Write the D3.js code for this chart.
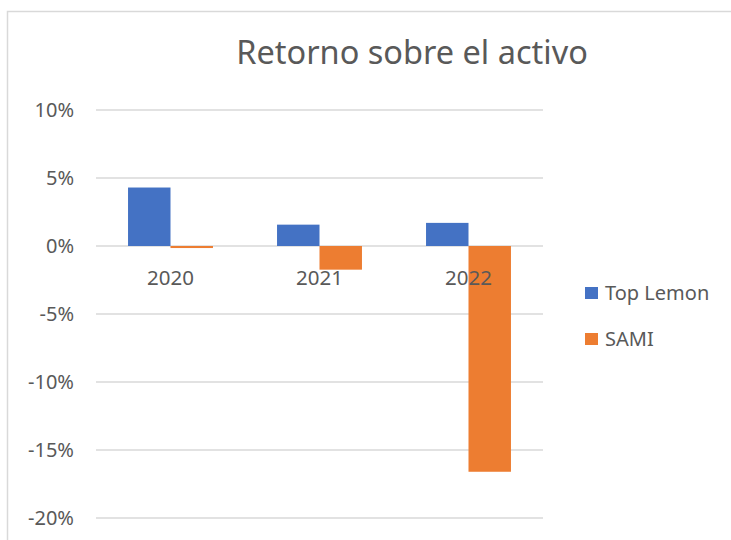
<!DOCTYPE html>
<html>
<head>
<meta charset="utf-8">
<script src="https://cdn.jsdelivr.net/npm/d3@7"></script>
<style>
  body { margin: 0; background: #fff; }
  text { font-family: "Noto Sans", "Open Sans", sans-serif; fill: #595959; }
</style>
</head>
<body>
<svg width="731" height="540"></svg>
<script>
// Retorno sobre el activo - columnas agrupadas
var years = ["2020", "2021", "2022"];
var seriesNames = ["Top Lemon", "SAMI"];
var topLemon = [4.3, 1.57, 1.7];
var sami = [-0.15, -1.74, -16.6];
var seriesColors = ["#4472C4", "#ED7D31"];
var yTicks = [10, 5, 0, -5, -10, -15, -20];

var svg = d3.select("svg");

// chart frame (runs past the image edge like the original screenshot)
svg.append("rect")
    .attr("x", 7.5).attr("y", 11.5)
    .attr("width", 760).attr("height", 560)
    .attr("fill", "none")
    .attr("stroke", "#d9d9d9")
    .attr("stroke-width", 1.5);

var plotL = 96, plotR = 543;

var y = d3.scaleLinear().domain([-20, 10]).range([518, 110]);
var x = d3.scaleBand().domain(years).range([plotL, plotR])
    .paddingInner(0.43).paddingOuter(0.215);
var xSub = d3.scaleBand().domain(seriesNames).range([0, x.bandwidth()]);

// gridlines
svg.append("g").selectAll("line").data(yTicks).enter().append("line")
    .attr("x1", plotL).attr("x2", plotR)
    .attr("y1", function(d){ return y(d); })
    .attr("y2", function(d){ return y(d); })
    .attr("stroke", "#d9d9d9")
    .attr("stroke-width", 1.5);

// y axis labels
var yAxis = d3.axisLeft(y).tickValues(yTicks).tickSize(0).tickPadding(0)
    .tickFormat(function(d){ return d + "%"; });
var yg = svg.append("g").attr("transform", "translate(74,0)").call(yAxis);
yg.select(".domain").remove();
yg.selectAll("text").attr("font-size", "20px").attr("fill", "#595959")
    .style("font-family", "'Noto Sans', sans-serif");

// bars
var rows = years.map(function(yr, i){
    return {year: yr, values: [
        {name: seriesNames[0], v: topLemon[i], c: seriesColors[0]},
        {name: seriesNames[1], v: sami[i], c: seriesColors[1]}
    ]};
});

var groups = svg.selectAll(".yr").data(rows).enter().append("g")
    .attr("class", "yr")
    .attr("transform", function(d){ return "translate(" + x(d.year) + ",0)"; });

groups.selectAll("rect").data(function(d){ return d.values; }).enter().append("rect")
    .attr("x", function(d){ return xSub(d.name); })
    .attr("width", xSub.bandwidth())
    .attr("y", function(d){ return y(Math.max(0, d.v)); })
    .attr("height", function(d){ return Math.abs(y(d.v) - y(0)); })
    .attr("fill", function(d){ return d.c; });

// category labels just under the zero line (drawn over the bars)
var xAxis = d3.axisBottom(x).tickSize(0).tickPadding(0);
var xg = svg.append("g").attr("transform", "translate(0," + (y(0) + 32) + ")").call(xAxis);
xg.select(".domain").remove();
xg.selectAll("text").attr("font-size", "20.5px").attr("fill", "#595959")
    .attr("dy", "0.35em")
    .style("font-family", "'Noto Sans', sans-serif");

// title
svg.append("text")
    .attr("x", 412).attr("y", 64)
    .attr("text-anchor", "middle")
    .attr("font-size", "32.5px")
    .text("Retorno sobre el activo");

// legend
var legend = svg.selectAll(".lg").data(seriesNames).enter().append("g")
    .attr("class", "lg")
    .attr("transform", function(d, i){ return "translate(585," + (287 + i * 46) + ")"; });
legend.append("rect")
    .attr("width", 13).attr("height", 12)
    .attr("fill", function(d, i){ return seriesColors[i]; });
legend.append("text")
    .attr("x", 20).attr("y", 6)
    .attr("dy", "0.35em")
    .attr("font-size", "20px")
    .text(function(d){ return d; });
</script>
</body>
</html>
